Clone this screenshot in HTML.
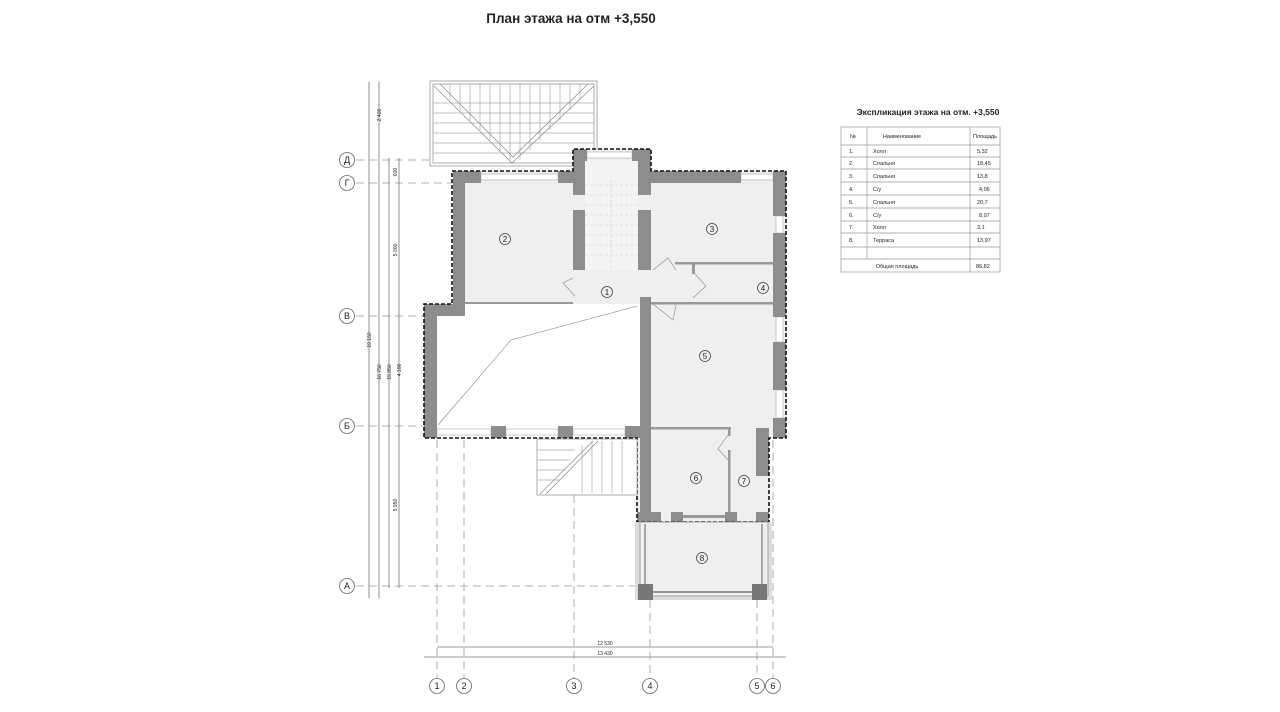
<!DOCTYPE html>
<html><head><meta charset="utf-8"><style>
html,body{margin:0;padding:0;background:#fff;width:1280px;height:712px;overflow:hidden}
svg{display:block}
text{font-family:"Liberation Sans",sans-serif;fill:#222}
</style></head><body>
<svg width="1280" height="712" viewBox="0 0 1280 712" xmlns="http://www.w3.org/2000/svg">
<text x="571" y="23" font-size="13.5" font-weight="bold" text-anchor="middle">План этажа на отм +3,550</text>

<!-- grid axes -->
<g stroke="#999" stroke-width="0.8" stroke-dasharray="8,5" fill="none">
<line x1="356" y1="160" x2="640" y2="160"/>
<line x1="356" y1="183" x2="460" y2="183"/>
<line x1="356" y1="316" x2="430" y2="316"/>
<line x1="356" y1="426" x2="430" y2="426"/>
<line x1="356" y1="586" x2="640" y2="586"/>
<line x1="437" y1="440" x2="437" y2="678"/>
<line x1="464" y1="310" x2="464" y2="678"/>
<line x1="574" y1="300" x2="574" y2="678"/>
<line x1="650" y1="600" x2="650" y2="678"/>
<line x1="757" y1="600" x2="757" y2="678"/>
<line x1="773" y1="440" x2="773" y2="678"/>
<line x1="464" y1="304" x2="464" y2="438"/>
<line x1="574" y1="304" x2="574" y2="438"/>
</g>
<!-- vertical dims -->
<g stroke="#777" stroke-width="0.8">
<line x1="369" y1="82" x2="369" y2="598"/>
<line x1="379" y1="82" x2="379" y2="598"/>
<line x1="389" y1="158" x2="389" y2="588"/>
<line x1="399" y1="158" x2="399" y2="588"/>
<line x1="437" y1="647" x2="773" y2="647"/>
<line x1="424" y1="657" x2="786" y2="657"/>
</g>
<g font-size="5" fill="#444">
<text transform="translate(381,115) rotate(-90)" text-anchor="middle">2 400</text>
<text transform="translate(397,172) rotate(-90)" text-anchor="middle">600</text>
<text transform="translate(397,250) rotate(-90)" text-anchor="middle">5 000</text>
<text transform="translate(371,340) rotate(-90)" text-anchor="middle">19 150</text>
<text transform="translate(381,372) rotate(-90)" text-anchor="middle">16 750</text>
<text transform="translate(391,372) rotate(-90)" text-anchor="middle">15 850</text>
<text transform="translate(401,370) rotate(-90)" text-anchor="middle">4 100</text>
<text transform="translate(397,505) rotate(-90)" text-anchor="middle">5 950</text>
<text x="605" y="645" text-anchor="middle">12 530</text>
<text x="605" y="655" text-anchor="middle">13 430</text>
</g>
<!-- bubbles -->
<g fill="#fff" stroke="#666" stroke-width="0.8">
<circle cx="347" cy="160" r="7.5"/><circle cx="347" cy="183" r="7.5"/><circle cx="347" cy="316" r="7.5"/><circle cx="347" cy="426" r="7.5"/><circle cx="347" cy="586" r="7.5"/>
<circle cx="437" cy="686" r="7.5"/><circle cx="464" cy="686" r="7.5"/><circle cx="574" cy="686" r="7.5"/><circle cx="650" cy="686" r="7.5"/><circle cx="757" cy="686" r="7.5"/><circle cx="773" cy="686" r="7.5"/>
</g>
<g font-size="9" text-anchor="middle">
<text x="347" y="163">Д</text><text x="347" y="186">Г</text><text x="347" y="319">В</text><text x="347" y="429">Б</text><text x="347" y="589">А</text>
<text x="437" y="689">1</text><text x="464" y="689">2</text><text x="574" y="689">3</text><text x="650" y="689">4</text><text x="757" y="689">5</text><text x="773" y="689">6</text>
</g>

<!-- roof top -->
<g stroke="#888" stroke-width="0.7" fill="none">
<rect x="430" y="81" width="167" height="85" fill="#fff"/>
<rect x="433" y="84" width="161" height="79"/>
<g stroke="#aaa">
<line x1="434" y1="103" x2="594" y2="103"/><line x1="434" y1="113" x2="594" y2="113"/><line x1="434" y1="123" x2="594" y2="123"/><line x1="434" y1="133" x2="594" y2="133"/><line x1="434" y1="143" x2="594" y2="143"/><line x1="434" y1="153" x2="594" y2="153"/>
<line x1="450" y1="84" x2="450" y2="100"/><line x1="460" y1="84" x2="460" y2="110"/><line x1="470" y1="84" x2="470" y2="120"/><line x1="480" y1="84" x2="480" y2="130"/><line x1="490" y1="84" x2="490" y2="140"/><line x1="500" y1="84" x2="500" y2="152"/><line x1="510" y1="84" x2="510" y2="160"/><line x1="520" y1="84" x2="520" y2="160"/><line x1="530" y1="84" x2="530" y2="150"/><line x1="540" y1="84" x2="540" y2="140"/><line x1="550" y1="84" x2="550" y2="130"/><line x1="560" y1="84" x2="560" y2="120"/><line x1="570" y1="84" x2="570" y2="110"/><line x1="580" y1="84" x2="580" y2="100"/>
</g>
<path d="M434,86 L512,163 L594,86 M440,84 L513,157 L588,84"/>
</g>

<!-- building fill -->
<g fill="#efefef">
<rect x="453" y="171" width="333" height="133"/>
<rect x="573" y="149" width="78" height="30"/>
<rect x="640" y="304" width="146" height="134"/>
<rect x="637" y="428" width="132" height="94"/>
</g>
<rect x="437" y="304" width="203" height="134" fill="#fff"/>
<!-- stair -->
<rect x="585" y="160" width="53" height="110" fill="#f4f4f4"/>
<g stroke="#ccc" stroke-width="0.6" stroke-dasharray="3,2">
<line x1="585" y1="185" x2="638" y2="185"/><line x1="585" y1="195" x2="638" y2="195"/><line x1="585" y1="205" x2="638" y2="205"/><line x1="585" y1="215" x2="638" y2="215"/><line x1="585" y1="225" x2="638" y2="225"/><line x1="585" y1="235" x2="638" y2="235"/><line x1="585" y1="245" x2="638" y2="245"/><line x1="585" y1="255" x2="638" y2="255"/>
<line x1="611" y1="180" x2="611" y2="268"/>
</g>
<!-- windows -->
<g fill="#fff" stroke="#999" stroke-width="0.5">
<rect x="481" y="174" width="77" height="6"/>
<rect x="741" y="174" width="32" height="6"/>
<rect x="587" y="152" width="45" height="6"/>
<rect x="776" y="216" width="7" height="17"/>
<rect x="776" y="317" width="7" height="25"/>
<rect x="776" y="390" width="7" height="28"/>
<rect x="437" y="429" width="54" height="6"/>
<rect x="506" y="429" width="52" height="6"/>
<rect x="573" y="429" width="52" height="6"/>
</g>

<!-- walls -->
<g fill="#8d8d8d">
<rect x="453" y="171" width="12" height="133"/>
<rect x="453" y="171" width="28" height="12"/>
<rect x="558" y="171" width="27" height="12"/>
<rect x="573" y="149" width="12" height="46"/>
<rect x="573" y="210" width="12" height="60"/>
<rect x="638" y="149" width="13" height="46"/>
<rect x="638" y="210" width="13" height="60"/>
<rect x="573" y="149" width="14" height="12"/>
<rect x="632" y="149" width="19" height="12"/>
<rect x="651" y="171" width="90" height="12"/>
<rect x="773" y="171" width="13" height="45"/>
<rect x="773" y="233" width="13" height="84"/>
<rect x="773" y="342" width="13" height="48"/>
<rect x="773" y="418" width="13" height="20"/>
<rect x="424" y="304" width="13" height="134"/>
<rect x="424" y="304" width="41" height="12"/>
<rect x="491" y="426" width="15" height="12"/>
<rect x="558" y="426" width="15" height="12"/>
<rect x="625" y="426" width="15" height="12"/>
<rect x="640" y="297" width="11" height="225"/>
<rect x="756" y="428" width="13" height="48"/>
<rect x="637" y="512" width="24" height="10"/>
<rect x="671" y="512" width="12" height="10"/>
<rect x="725" y="512" width="12" height="10"/>
<rect x="756" y="512" width="13" height="10"/>
</g>
<g fill="#999">
<rect x="465" y="302" width="108" height="2"/>
<rect x="651" y="302" width="122" height="2.5"/>
<rect x="675" y="262" width="98" height="2.5"/>
<rect x="692" y="264" width="3" height="10"/>
<rect x="651" y="427" width="80" height="2.5"/>
<rect x="728" y="427" width="2.5" height="9"/>
<rect x="728" y="450" width="2.5" height="62"/>
<rect x="683" y="515" width="42" height="3"/>
</g>
<!-- door swings -->
<g stroke="#888" stroke-width="0.6" fill="none">
<path d="M573,278 L563,283 L575,296"/>
<path d="M653,270 L668,258 L676,270"/>
<path d="M653,304 L673,320 L676,305"/>
<path d="M693,298 L706,286 L695,274"/>
<path d="M728,435 L718,449 L728,460"/>
<path d="M438,425 L511,340 L637,306"/>
<path d="M654,522 L667,532"/><path d="M754,522 L742,532"/>
</g>

<!-- dashed outline -->
<path d="M452,171 L573,171 L573,149 L651,149 L651,171 L786,171 L786,438 L769,438 L769,522 L637,522 L637,438 L424,438 L424,304 L452,304 Z" fill="none" stroke="#111" stroke-width="1.6" stroke-dasharray="4,2"/>

<!-- bottom stair -->
<g stroke="#888" stroke-width="0.7" fill="#fff">
<rect x="537" y="439" width="100" height="56"/>
<g fill="none" stroke="#aaa">
<line x1="537" y1="450" x2="575" y2="450"/><line x1="537" y1="460" x2="570" y2="460"/><line x1="537" y1="470" x2="565" y2="470"/><line x1="537" y1="480" x2="560" y2="480"/>
<line x1="582" y1="445" x2="582" y2="493"/><line x1="592" y1="441" x2="592" y2="493"/><line x1="602" y1="441" x2="602" y2="493"/><line x1="612" y1="441" x2="612" y2="493"/><line x1="622" y1="441" x2="622" y2="493"/>
</g>
<path d="M540,494 L593,441 M546,494 L598,441" fill="none"/>
</g>

<!-- terrace 8 -->
<rect x="635" y="522" width="137" height="78" fill="#ddd"/>
<rect x="640" y="522" width="128" height="74" fill="#efefef" stroke="#888" stroke-width="0.7"/>
<g fill="#777"><rect x="638" y="584" width="15" height="16"/><rect x="752" y="584" width="15" height="16"/></g>
<line x1="653" y1="592" x2="752" y2="592" stroke="#777" stroke-width="1.5"/>
<line x1="645" y1="524" x2="645" y2="584" stroke="#777" stroke-width="1.2"/>
<line x1="762" y1="524" x2="762" y2="584" stroke="#777" stroke-width="1.2"/>

<!-- room labels -->
<g fill="none" stroke="#333" stroke-width="0.7">
<circle cx="505" cy="239" r="5.5"/><circle cx="712" cy="229" r="5.5"/><circle cx="763" cy="288" r="5.5"/><circle cx="705" cy="356" r="5.5"/><circle cx="607" cy="292" r="5.5"/><circle cx="696" cy="478" r="5.5"/><circle cx="744" cy="481" r="5.5"/><circle cx="702" cy="558" r="5.5"/>
</g>
<g font-size="8" text-anchor="middle">
<text x="505" y="242">2</text><text x="712" y="232">3</text><text x="763" y="291">4</text><text x="705" y="359">5</text><text x="607" y="295">1</text><text x="696" y="481">6</text><text x="744" y="484">7</text><text x="702" y="561">8</text>
</g>

<!-- table -->
<text x="928" y="115" font-size="8.5" font-weight="bold" text-anchor="middle">Экспликация этажа на отм. +3,550</text>
<g stroke="#999" stroke-width="0.7" fill="none">
<rect x="841" y="127" width="159" height="145"/>
<line x1="867" y1="127" x2="867" y2="259"/>
<line x1="970" y1="127" x2="970" y2="272"/>
<line x1="841" y1="145" x2="1000" y2="145"/>
<line x1="841" y1="157" x2="1000" y2="157"/>
<line x1="841" y1="169" x2="1000" y2="169"/>
<line x1="841" y1="182" x2="1000" y2="182"/>
<line x1="841" y1="195" x2="1000" y2="195"/>
<line x1="841" y1="208" x2="1000" y2="208"/>
<line x1="841" y1="221" x2="1000" y2="221"/>
<line x1="841" y1="233" x2="1000" y2="233"/>
<line x1="841" y1="247" x2="1000" y2="247"/>
<line x1="841" y1="259" x2="1000" y2="259"/>
</g>
<g font-size="5.5" fill="#333">
<text x="850" y="138">№</text><text x="902" y="138" text-anchor="middle">Наименование</text><text x="985" y="138" text-anchor="middle">Площадь</text>
<text x="849" y="153">1.</text><text x="873" y="153">Холл</text><text x="977" y="153">5,32</text>
<text x="849" y="165">2.</text><text x="873" y="165">Спальня</text><text x="977" y="165">18,45</text>
<text x="849" y="178">3.</text><text x="873" y="178">Спальня</text><text x="977" y="178">13,8</text>
<text x="849" y="191">4.</text><text x="873" y="191">С/у</text><text x="979" y="191">4,06</text>
<text x="849" y="204">5.</text><text x="873" y="204">Спальня</text><text x="977" y="204">20,7</text>
<text x="849" y="217">6.</text><text x="873" y="217">С/у</text><text x="979" y="217">8,07</text>
<text x="849" y="229">7.</text><text x="873" y="229">Холл</text><text x="977" y="229">3,1</text>
<text x="849" y="242">8.</text><text x="873" y="242">Терраса</text><text x="977" y="242">13,97</text>
<text x="897" y="268" text-anchor="middle">Общая площадь</text><text x="976" y="268">86,82</text>
</g>
</svg>
</body></html>
